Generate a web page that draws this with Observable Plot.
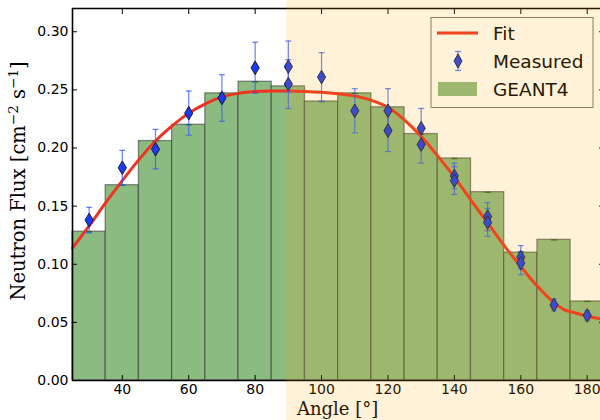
<!DOCTYPE html>
<html><head><meta charset="utf-8">
<script src="https://cdn.jsdelivr.net/npm/d3@7"></script>
<script src="https://cdn.jsdelivr.net/npm/@observablehq/plot@0.6"></script>
<style>body{margin:0;background:#fff}</style>
</head><body><div id="chart"></div>
<script>
// GEANT4 simulation (bars, 10° wide, centred on angle)
const barAngles = [30,40,50,60,70,80,90,100,110,120,130,140,150,160,170,180];
const geant4 = [0.128,0.168,0.206,0.220,0.247,0.257,0.253,0.240,0.247,0.235,0.212,0.191,0.162,0.110,0.121,0.068];

// Measured points with uncertainties
const measAngles = [30,40,50,60,70,80,90,90,100,110,120,120,130,130,140,140,150,150,160,160,170,180];
const measFlux   = [0.138,0.183,0.199,0.230,0.243,0.269,0.270,0.255,0.261,0.232,0.232,0.215,0.217,0.203,0.176,0.172,0.141,0.136,0.106,0.101,0.065,0.056];
const measErr    = [0.011,0.015,0.017,0.019,0.020,0.022,0.022,0.021,0.021,0.019,0.019,0.018,0.017,0.016,0.011,0.012,0.012,0.012,0.010,0.010,0.005,0.004];

// Fit curve
const fitAngles = [25,30,35,40,45,50,55,60,65,70,75,80,85,90,95,100,105,110,115,120,125,130,135,140,145,150,155,160,165,170,173,176,180,184];
const fitFlux   = [0.114,0.133,0.153,0.172,0.190,0.206,0.219,0.230,0.238,0.244,0.247,0.2485,0.249,0.249,0.2487,0.248,0.2467,0.2447,0.241,0.235,0.224,0.210,0.193,0.175,0.155,0.1356,0.116,0.098,0.081,0.067,0.061,0.0585,0.0552,0.053];

const xTicks = [40,60,80,100,120,140,160,180];
const yTicks = [0,0.05,0.10,0.15,0.20,0.25,0.30];
const xDomain = [25,184];
const yDomain = [0,0.32];
const binWidth = 10;
const shadeStart = 89.5;

const bars = barAngles.map((a,i)=>({angle:a, flux:geant4[i]}));
const meas = measAngles.map((a,i)=>({angle:a, flux:measFlux[i], err:measErr[i]}));
const fit = fitAngles.map((a,i)=>({angle:a, flux:fitFlux[i]}));

const thinDiamond = {
  draw(ctx, size) {
    const r = Math.sqrt(size/Math.PI);
    const w = r*0.6;
    ctx.moveTo(0,-r); ctx.lineTo(w,0); ctx.lineTo(0,r); ctx.lineTo(-w,0); ctx.closePath();
  }
};

const barFill = "#8cbb82";
const errColor = "#2f55ff";
const fitColor = "#ee3322";
const dotFill = "#1a3cf0";

const chart = Plot.plot({
  width: 600, height: 420,
  marginLeft: 72, marginRight: 0, marginTop: 8, marginBottom: 40,
  style: {fontFamily: "DejaVu Sans", fontSize: "14px", color: "#000", background: "#fff", overflow: "visible"},
  x: {domain: xDomain, label: null},
  y: {domain: yDomain, label: null},
  marks: [
    Plot.rect(bars, {x1: d=>d.angle-binWidth/2, x2: d=>d.angle+binWidth/2, y1: 0, y2: "flux",
      fill: barFill, stroke: "#333", strokeOpacity: 0.55, strokeWidth: 1.3}),
    Plot.link(bars, {x1: d=>d.angle-0.9, x2: d=>d.angle+0.9, y1: "flux", y2: "flux", stroke: "#2e6b2e", strokeWidth: 1.5}),
    Plot.line(fit, {x: "angle", y: "flux", stroke: fitColor, strokeWidth: 3, curve: "monotone-x"}),
    Plot.ruleX(meas, {x: "angle", y1: d=>d.flux-d.err, y2: d=>d.flux+d.err, stroke: errColor, strokeOpacity: 0.75, strokeWidth: 1.2}),
    Plot.link(meas, {x1: d=>d.angle-0.9, x2: d=>d.angle+0.9, y1: d=>d.flux+d.err, y2: d=>d.flux+d.err, stroke: errColor, strokeOpacity: 0.75, strokeWidth: 1.2}),
    Plot.link(meas, {x1: d=>d.angle-0.9, x2: d=>d.angle+0.9, y1: d=>d.flux-d.err, y2: d=>d.flux-d.err, stroke: errColor, strokeOpacity: 0.75, strokeWidth: 1.2}),
    Plot.dot(meas, {x: "angle", y: "flux", symbol: thinDiamond, r: 6.8, fill: dotFill, stroke: "#141a44", strokeWidth: 1}),
    Plot.axisX({anchor: "bottom", ticks: xTicks, tickSize: -5, tickPadding: 9, stroke: "#000", fill: "#000"}),
    Plot.axisX({anchor: "top", ticks: xTicks, tickSize: -5, tickFormat: () => "", stroke: "#000"}),
    Plot.axisY({anchor: "left", ticks: yTicks, tickSize: -5, tickPadding: 9, tickFormat: d3.format(".2f"), stroke: "#000", fill: "#000"}),
    Plot.axisY({anchor: "right", ticks: yTicks, tickSize: -5, dx: 3, tickFormat: () => "", stroke: "#000"}),
    Plot.ruleY([yDomain[0], yDomain[1]], {stroke: "#000", strokeWidth: 1.6}),
    Plot.ruleX([xDomain[0]], {stroke: "#000", strokeWidth: 1.6})
  ]
});

document.getElementById("chart").appendChild(chart);
const svg = d3.select(chart);
const xs = chart.scale("x"), ys = chart.scale("y");

// y axis label
const yl = svg.append("text")
  .attr("transform", `translate(25,181) rotate(-90)`)
  .attr("text-anchor", "middle")
  .style("font-family", "DejaVu Serif").style("font-size", "19.5px").attr("fill", "#000");
yl.append("tspan").text("Neutron Flux [cm");
yl.append("tspan").attr("dy", -7.5).style("font-size", "13.5px").text("\u22122");
yl.append("tspan").attr("dy", 7.5).text(" s");
yl.append("tspan").attr("dy", -7.5).style("font-size", "13.5px").text("\u22121");
yl.append("tspan").attr("dy", 7.5).text("]");

// x axis label
svg.append("text")
  .attr("x", xs.apply((xDomain[0] + 185)/2)).attr("y", 415)
  .attr("text-anchor", "middle")
  .style("font-family", "DejaVu Serif").style("font-size", "18px").attr("fill", "#000")
  .text("Angle [\u00b0]");

// legend
const lg = svg.append("g").style("font-family", "DejaVu Sans").style("font-size", "18.5px");
lg.append("rect").attr("x", 431).attr("y", 17.5).attr("width", 162).attr("height", 90)
  .attr("fill", "#fff").attr("stroke", "#777").attr("stroke-width", 1);
lg.append("line").attr("x1", 437).attr("x2", 478).attr("y1", 33).attr("y2", 33)
  .attr("stroke", fitColor).attr("stroke-width", 3);
lg.append("line").attr("x1", 458).attr("x2", 458).attr("y1", 51.5).attr("y2", 70.5)
  .attr("stroke", errColor).attr("stroke-opacity", 0.75).attr("stroke-width", 1.2);
[51.5, 70.5].forEach(y => lg.append("line").attr("x1", 455).attr("x2", 461).attr("y1", y).attr("y2", y)
  .attr("stroke", errColor).attr("stroke-opacity", 0.75).attr("stroke-width", 1.2));
lg.append("path").attr("d", "M458,54 L462,61 L458,68 L454,61 Z").attr("fill", dotFill).attr("stroke", "#141a44");
lg.append("rect").attr("x", 438).attr("y", 82).attr("width", 39).attr("height", 14).attr("fill", barFill);
[["Fit", 39.5], ["Measured", 67.5], ["GEANT4", 95.5]].forEach(([t, y]) =>
  lg.append("text").attr("x", 493).attr("y", y).attr("text-anchor", "start").attr("fill", "#000").text(t));

// translucent orange shading over the backward hemisphere
const sx = xs.apply(shadeStart);
svg.append("rect").attr("x", sx).attr("y", 0).attr("width", 600 - sx).attr("height", 420)
  .attr("fill", "#ffa500").attr("fill-opacity", 0.15);
</script>
</body></html>
